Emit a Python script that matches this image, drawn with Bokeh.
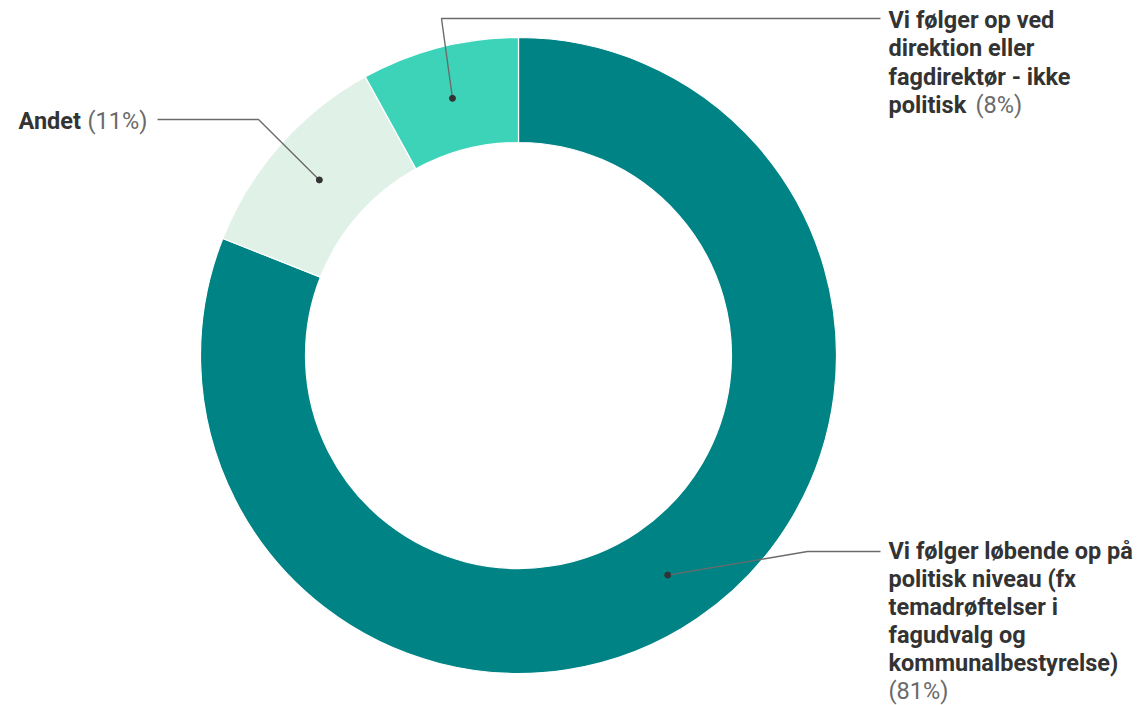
import math
from bokeh.plotting import figure
from bokeh.models import Range1d
from bokeh.core.properties import value
from bokeh.embed import file_html
from bokeh.resources import INLINE

# ---- data ----
categories = [
    "Vi følger løbende op på politisk niveau (fx temadrøftelser i fagudvalg og kommunalbestyrelse)",
    "Andet",
    "Vi følger op ved direktion eller fagdirektør - ikke politisk",
]
label_lines = [
    ["Vi følger løbende op på", "politisk niveau (fx", "temadrøftelser i", "fagudvalg og", "kommunalbestyrelse)"],
    ["Andet"],
    ["Vi følger op ved", "direktion eller", "fagdirektør - ikke", "politisk"],
]
percent_on_own_line = [True, False, False]
shares = [81, 11, 8]
colors = ["#008385", "#e0f1e8", "#3dd3b8"]

# ---- layout (screen pixel coordinates of the page) ----
W, H = 1145, 705
def sx(x):
    return x
def sy(y):
    return H - y

CX, CY = 518, 355
R_OUT, R_IN = 318, 213
R_MID = (R_OUT + R_IN) / 2

p = figure(width=W, height=H, output_backend="svg", toolbar_location=None,
           x_range=Range1d(0, W), y_range=Range1d(0, H),
           min_border=0, outline_line_color=None)
p.axis.visible = False
p.grid.visible = False
p.background_fill_color = "white"
p.border_fill_color = "white"

total = sum(shares)
starts, ends, mids = [], [], []
acc = 0.0
for s in shares:
    a0 = acc / total * 2 * math.pi
    acc += s
    a1 = acc / total * 2 * math.pi
    starts.append(math.pi / 2 - a0)
    ends.append(math.pi / 2 - a1)
    mids.append(math.pi / 2 - (a0 + a1) / 2)

p.annular_wedge(x=[sx(CX)] * 3, y=[sy(CY)] * 3, inner_radius=R_IN, outer_radius=R_OUT,
                start_angle=starts, end_angle=ends, direction="clock",
                fill_color=colors, line_color="white", line_width=1.2)

# dots at the middle of each slice
dx = [sx(CX) + R_MID * math.cos(m) for m in mids]
dy = [sy(CY) + R_MID * math.sin(m) for m in mids]

# leader elbows and label anchors (screen coords)
elbows = [(807, 551), (258, 119), (441, 18)]
line_ends = [(880, 551), (157, 119), (880, 18)]
label_x = [888, 18, 888]
label_y0 = [550, 120, 19]
LHS = [28.0, 28.5, 28.5]
FS = 23.5
pct_offset = {"Andet": 69, "politisk": 87}

for i in range(3):
    ex, ey = elbows[i]
    lx, ly = line_ends[i]
    p.line([dx[i], sx(ex), sx(lx)], [dy[i], sy(ey), sy(ly)],
           line_color="#6b6b6b", line_width=1.4)
p.scatter(dx, dy, size=6, fill_color="#333333", line_color="#333333")

for i in range(3):
    lines = label_lines[i]
    LH = LHS[i]
    ys = [label_y0[i] + k * LH for k in range(len(lines))]
    p.text(x=[sx(label_x[i])] * len(lines), y=[sy(v) for v in ys], text=lines,
           text_font=value("Roboto"), text_font_style="bold", text_font_size=f"{FS}px",
           text_color="#333333", text_baseline="middle", text_align="left")
    pct = f"({shares[i]}%)"
    if percent_on_own_line[i]:
        px = label_x[i]
        py = label_y0[i] + len(lines) * LH
    else:
        px = label_x[i] + pct_offset[lines[-1]]
        py = ys[-1]
    p.text(x=[sx(px)], y=[sy(py)], text=[pct],
           text_font=value("Roboto"), text_font_size=f"{FS}px",
           text_color="#6a6a6a", text_baseline="middle", text_align="left")

open("out.html", "w").write(file_html(p, INLINE))
